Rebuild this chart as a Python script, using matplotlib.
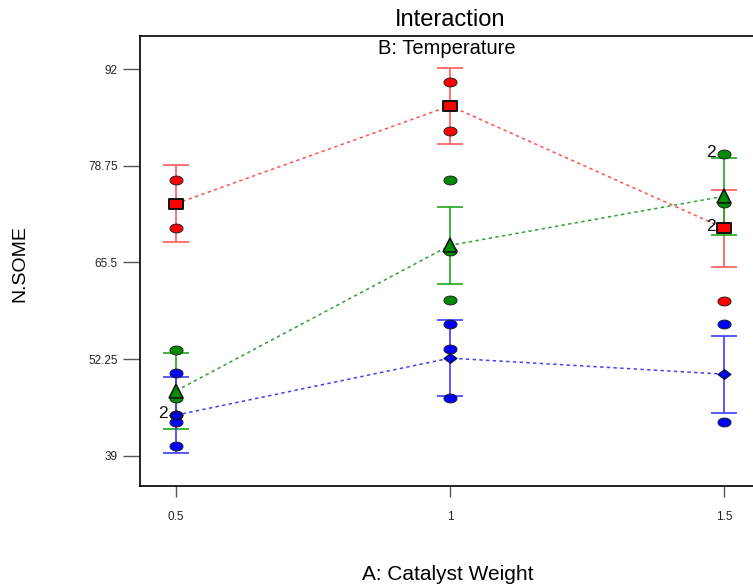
import numpy as np
import matplotlib
matplotlib.use("Agg")
import matplotlib.pyplot as plt
from matplotlib.path import Path

plt.rcParams['font.family'] = ['Liberation Sans', 'DejaVu Sans']

# Factor A levels and factor B (temperature) series
levels = [0.5, 1.0, 1.5]
red_means = [73.56, 86.95, 70.20]
green_means = [47.92, 67.85, 74.57]
blue_means = [44.60, 52.40, 50.20]
lsd_half = 5.25

# Design points (x, y) per temperature level
red_x = [0.5, 0.5, 1.0, 1.0, 1.5, 1.5]
red_y = [76.84, 70.24, 90.27, 83.57, 70.24, 60.21]
green_x = [0.5, 0.5, 1.0, 1.0, 1.0, 1.5, 1.5]
green_y = [53.52, 46.92, 76.84, 67.04, 60.31, 80.35, 73.65]
blue_x = [0.5, 0.5, 0.5, 0.5, 1.0, 1.0, 1.0, 1.5, 1.5]
blue_y = [50.33, 44.64, 43.68, 40.32, 57.03, 53.61, 46.88, 57.03, 43.60]

# Replicate counts shown beside points
rep_labels = [(0.5, 44.64, "2"), (1.5, 80.35, "2"), (1.5, 70.24, "2")]

yticks = [39, 52.25, 65.5, 78.75, 92]
ytick_labels = ["39", "52.25", "65.5", "78.75", "92"]
xticks = [0.5, 1.0, 1.5]
xtick_labels = ["0.5", "1", "1.5"]

W, H = 753, 588
fig = plt.figure(figsize=(W / 100, H / 100), dpi=100)
ax = fig.add_axes([140 / W, (H - 486) / H, 620 / W, 450 / H])
ax.set_xlim(0.4343, 1.5657)
ax.set_ylim(34.89, 96.52)

# Elliptical marker for design points
t = np.linspace(0, 2 * np.pi, 60)
ellipse = Path(np.column_stack([np.cos(t), 0.68 * np.sin(t)]), closed=False)
rect = Path([(-1, -0.78), (1, -0.78), (1, 0.78), (-1, 0.78), (-1, -0.78)], closed=True)
diamond = Path([(-1, 0), (0, 0.75), (1, 0), (0, -0.75), (-1, 0)], closed=True)

series = [
    (red_means, red_x, red_y, '#FF0000', '#FF5A5A', '#FF5050', rect, 9.4, 1.4),
    (green_means, green_x, green_y, '#008C00', '#1FA81F', '#30A030', '^', 10.0, 1.1),
    (blue_means, blue_x, blue_y, '#0000FF', '#3C3CFF', '#4040F0', diamond, 9.4, 0.8),
]

for means, px, py, fill, barc, linec, mk, ms, mew in series:
    ax.plot(levels, means, linestyle=(0, (2.2, 2.2)), color=linec, lw=1.1, zorder=2)
    ax.errorbar(levels, means, yerr=lsd_half, fmt='none', ecolor=barc,
                elinewidth=1.2, capsize=9.4, capthick=1.2, zorder=3)
    ax.plot(px, py, linestyle='none', marker=ellipse, ms=9.4, mfc=fill,
            mec='#222222', mew=0.7, zorder=4)
    ax.plot(levels, means, linestyle='none', marker=mk, ms=ms, mfc=fill,
            mec='#111111', mew=mew, zorder=5)

for x, y, s in rep_labels:
    ax.annotate(s, xy=(x, y), xytext=(-6, 1), textcoords='offset points',
                ha='right', va='center', fontsize=12.5, color='#111111', zorder=6)

ax.spines['right'].set_visible(False)
for side in ('left', 'top', 'bottom'):
    ax.spines[side].set_linewidth(1.3)
    ax.spines[side].set_color('#111111')

ax.set_yticks(yticks)
ax.set_yticklabels(ytick_labels, fontsize=8.5, color='#222222')
ax.set_xticks(xticks)
ax.set_xticklabels(xtick_labels, fontsize=8.5, color='#222222')
ax.tick_params(axis='y', direction='out', length=12, width=1.0, color='#555555', pad=4)
ax.tick_params(axis='x', direction='out', length=8, width=1.0, color='#555555', pad=10)

fig.text(450 / W, 1 - 20 / H, "Interaction", ha='center', va='center', fontsize=17)
fig.text(447 / W, 1 - 49 / H, "B: Temperature", ha='center', va='center', fontsize=14.5)
fig.text(448 / W, 1 - 574 / H, "A: Catalyst Weight", ha='center', va='center', fontsize=15)
fig.text(20 / W, 1 - 264 / H, "N.SOME", ha='center', va='center', rotation=90, fontsize=14)

fig.savefig("out.png", dpi=100)
